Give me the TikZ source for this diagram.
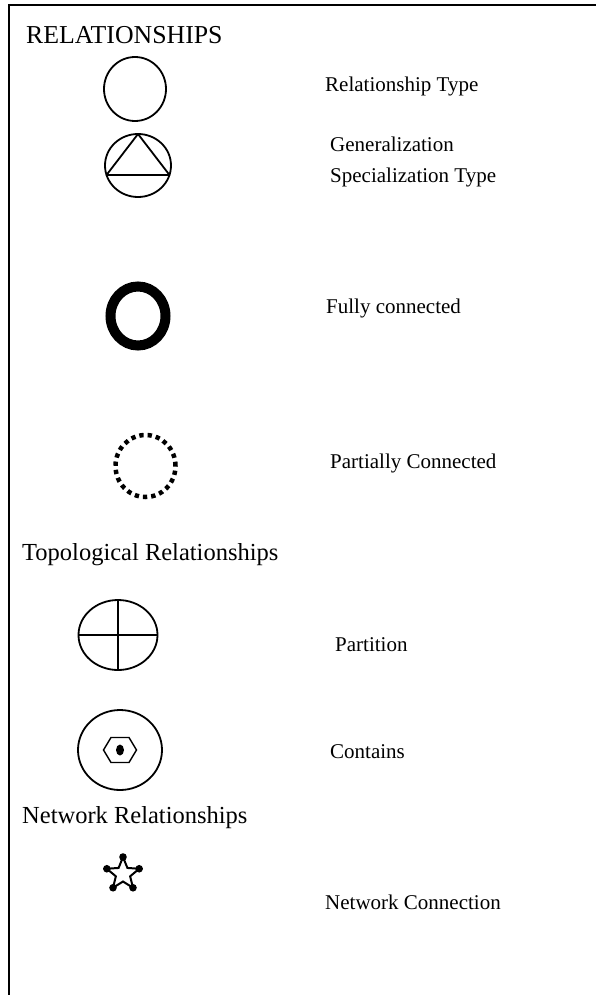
\documentclass[tikz,border=0pt]{standalone}
\usepackage{fontspec}
\setmainfont{Liberation Serif}
\begin{document}
\begin{tikzpicture}[x=1pt,y=-1pt,
  lbl/.style={anchor=west,font=\fontsize{21}{30.5}\selectfont,inner sep=0pt},
  head/.style={anchor=west,font=\fontsize{24.5}{28}\selectfont,inner sep=0pt},
  sym/.style={line width=1.8pt}]
\useasboundingbox (0,0) rectangle (595,995);
% frame
\draw[line width=2pt] (9,997) -- (9,5) -- (597,5);
% title
\node[head,font=\fontsize{25.8}{30}\selectfont] (title) at (26,35) {RELATIONSHIPS};
% relationship type
\draw[sym] (135,89) ellipse [x radius=31pt, y radius=32pt];
\node[lbl] (reltype) at (325,86) {Relationship Type};
% generalization
\draw[sym] (138,165.5) ellipse [x radius=33pt, y radius=31.5pt];
\draw[sym,line join=round] (138,134) -- (106.5,175) -- (169.5,175) -- cycle;
\node[lbl,align=left] (gen) at (330,162) {Generalization\\Specialization Type};
% fully connected
\draw[line width=10pt] (138,316) ellipse [x radius=27.5pt, y radius=29.5pt];
\node[lbl] (full) at (326,308) {Fully connected};
% partially connected
\draw[line width=4.5pt,dash pattern=on 4.3pt off 4pt] (145.5,466) ellipse [x radius=30pt, y radius=31pt];
\node[lbl] (part) at (330,463) {Partially Connected};
% topological
\node[head] (topo) at (22,555) {Topological Relationships};
% partition
\draw[sym] (118,635) ellipse [x radius=39.5pt, y radius=35pt];
\draw[sym] (78.5,635) -- (157.5,635);
\draw[sym] (118,600) -- (118,670);
\node[lbl] (partition) at (335,645) {Partition};
% contains
\draw[sym] (120,750) ellipse [x radius=42pt, y radius=40pt];
\draw[line width=1.4pt] (103.5,750) -- (111,737.5) -- (129,737.5) -- (136.5,750) -- (129,762.5) -- (111,762.5) -- cycle;
\fill (120,750) ellipse [x radius=4pt, y radius=5.5pt];
\node[lbl] (contains) at (330,752) {Contains};
% network
\node[head] (net) at (22,818) {Network Relationships};
\begin{scope}[shift={(123,874)}]
  \draw[line width=2pt,line join=miter,fill=white]
    (90:17pt) -- (126:7.5pt) -- (162:17pt) -- (198:7.5pt) -- (234:17pt) -- (270:7.5pt)
    -- (306:17pt) -- (342:7.5pt) -- (18:17pt) -- (54:7.5pt) -- cycle;
  \foreach \a in {90,162,234,306,18} \fill (\a:17pt) circle (3.8pt);
\end{scope}
\node[lbl] (netconn) at (325,902) {Network Connection};
\end{tikzpicture}
\end{document}
